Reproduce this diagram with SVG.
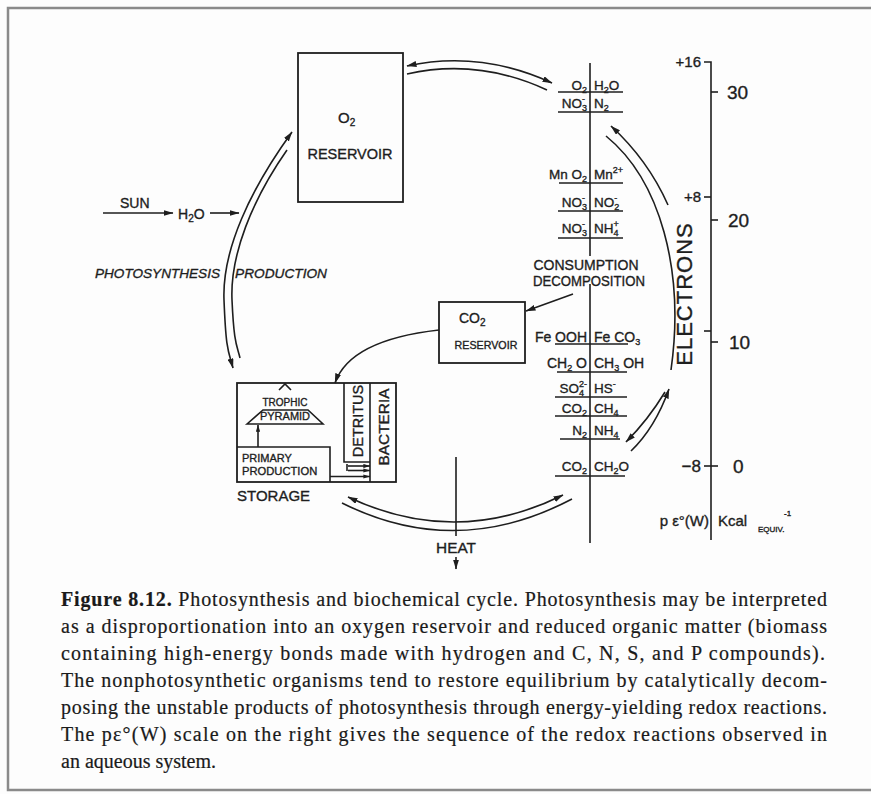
<svg xmlns="http://www.w3.org/2000/svg" width="871" height="794" viewBox="0 0 871 794">
<defs>
<marker id="ah" viewBox="0 0 10 6" refX="9.5" refY="3" markerWidth="10" markerHeight="6" orient="auto-start-reverse" markerUnits="userSpaceOnUse"><path d="M0,0 L10,3 L0,6 z" fill="#1e1e1e"/></marker>
<marker id="as" viewBox="0 0 10 6" refX="9.5" refY="3" markerWidth="7" markerHeight="4.2" orient="auto-start-reverse" markerUnits="userSpaceOnUse"><path d="M0,0 L10,3 L0,6 z" fill="#1e1e1e"/></marker>
<style>
.ln{fill:none;stroke:#1e1e1e;stroke-width:1.6}
.bx{fill:none;stroke:#1e1e1e;stroke-width:1.8}
.t{font-family:"Liberation Sans","DejaVu Sans",sans-serif;fill:#1e1e1e;stroke:#1e1e1e;stroke-width:0.35}
.sp{font-size:13.5px}
.sb{font-size:9px}
.cap{font-family:"Liberation Serif","Times New Roman",serif;font-size:20px;fill:#1a1a1a;stroke:#1a1a1a;stroke-width:0.2}
</style>
</defs>
<rect x="0" y="0" width="871" height="794" fill="#fdfdfd"/>
<rect x="8" y="8" width="880" height="782" fill="none" stroke="#8a8a8a" stroke-width="2.5"/>

<g id="o2-reservoir">
<rect class="bx" x="298" y="53" width="105" height="149"/>
<text class="t" x="338" y="123" font-size="15">O<tspan font-size="10" dy="3">2</tspan></text>
<text class="t" x="350" y="159" font-size="14.5" text-anchor="middle">RESERVOIR</text>
</g>

<g id="co2-reservoir">
<rect class="bx" x="439" y="302" width="86" height="61"/>
<text class="t" x="459" y="323" font-size="14">CO<tspan font-size="10" dy="3">2</tspan></text>
<text class="t" x="486" y="349" font-size="10.7" text-anchor="middle">RESERVOIR</text>
</g>

<g id="storage">
<rect class="bx" x="237" y="383" width="159" height="99"/>
<polyline class="ln" points="344,383 344,462 370,462"/>
<line class="ln" x1="370" y1="383" x2="370" y2="482"/>
<polyline class="ln" points="237,447 330,447 330,482"/>
<text class="t" x="358" y="421" font-size="14.5" text-anchor="middle" dominant-baseline="central" transform="rotate(-90 358 421)">DETRITUS</text>
<text class="t" x="383" y="427" font-size="15.4" text-anchor="middle" dominant-baseline="central" transform="rotate(-90 383 427)">BACTERIA</text>
<polyline class="ln" points="279,390 285,384 291,390" stroke-width="1.2"/>
<polygon class="ln" points="247,424 263,410 308,410 323,424"/>
<text class="t" x="285" y="406" font-size="10" text-anchor="middle">TROPHIC</text>
<text class="t" x="285" y="420" font-size="11" text-anchor="middle">PYRAMID</text>
<line class="ln" x1="258" y1="447" x2="258" y2="425" marker-end="url(#as)"/>
<text class="t" x="242" y="462" font-size="11">PRIMARY</text>
<text class="t" x="242" y="475" font-size="11.2">PRODUCTION</text>
<line class="ln" x1="347" y1="464" x2="347" y2="471" stroke-width="1.2"/>
<line class="ln" x1="348" y1="466" x2="370" y2="466" stroke-width="1.2" marker-end="url(#as)"/>
<line class="ln" x1="348" y1="470.5" x2="370" y2="470.5" stroke-width="1.2" marker-end="url(#as)"/>
<line class="ln" x1="330" y1="476.5" x2="370" y2="476.5" stroke-width="1.2" marker-end="url(#as)"/>
<text class="t" x="237" y="501" font-size="15">STORAGE</text>
</g>

<g id="labels">
<text class="t" x="120" y="208" font-size="14">SUN</text>
<text class="t" x="178" y="219" font-size="14">H<tspan font-size="10" dy="3">2</tspan><tspan dy="-3">O</tspan></text>
<text class="t" x="95" y="278" font-size="13.5" font-style="italic" textLength="125" lengthAdjust="spacingAndGlyphs">PHOTOSYNTHESIS</text>
<text class="t" x="235" y="278" font-size="13.5" font-style="italic" textLength="92" lengthAdjust="spacingAndGlyphs">PRODUCTION</text>
<text class="t" x="586" y="270" font-size="14" text-anchor="middle" textLength="105" lengthAdjust="spacingAndGlyphs">CONSUMPTION</text>
<text class="t" x="589" y="286" font-size="14" text-anchor="middle" textLength="112" lengthAdjust="spacingAndGlyphs">DECOMPOSITION</text>
<text class="t" x="456" y="553" font-size="15.4" text-anchor="middle">HEAT</text>
<text class="t" x="684" y="294" font-size="22" text-anchor="middle" dominant-baseline="central" letter-spacing="1" transform="rotate(-90 684 294)">ELECTRONS</text>
</g>

<g id="redox-ladder">
<line class="ln" x1="590" y1="63" x2="590" y2="256"/>
<line class="ln" x1="590" y1="284" x2="590" y2="543"/>
<g class="ln" stroke-width="1.5">
<line x1="558" y1="92" x2="623" y2="92"/>
<line x1="558" y1="112" x2="623" y2="112"/>
<line x1="559" y1="183" x2="623" y2="183"/>
<line x1="558" y1="211" x2="623" y2="211"/>
<line x1="558" y1="238" x2="623" y2="238"/>
<line x1="555" y1="344" x2="628" y2="344"/>
<line x1="557" y1="372" x2="627" y2="372"/>
<line x1="555" y1="397" x2="627" y2="397"/>
<line x1="555" y1="416" x2="627" y2="416"/>
<line x1="560" y1="439" x2="620" y2="439"/>
<line x1="555" y1="476" x2="625" y2="476"/>
</g>
<g class="t sp">
<text x="587" y="90" text-anchor="end">O<tspan class="sb" dy="3">2</tspan></text>
<text x="594" y="90">H<tspan class="sb" dy="3">2</tspan><tspan dy="-3">O</tspan></text>
<text x="587" y="108" text-anchor="end">NO<tspan class="sb" dy="3">3</tspan><tspan class="sb" dx="-5" dy="-9">-</tspan></text>
<text x="594" y="108">N<tspan class="sb" dy="3">2</tspan></text>
<text x="587" y="179" text-anchor="end">Mn O<tspan class="sb" dy="3">2</tspan></text>
<text x="594" y="179">Mn<tspan class="sb" dy="-6">2+</tspan></text>
<text x="587" y="207" text-anchor="end">NO<tspan class="sb" dy="3">3</tspan><tspan class="sb" dx="-5" dy="-9">-</tspan></text>
<text x="594" y="207">NO<tspan class="sb" dy="3">2</tspan><tspan class="sb" dx="-5" dy="-9">-</tspan></text>
<text x="587" y="233" text-anchor="end">NO<tspan class="sb" dy="3">3</tspan><tspan class="sb" dx="-5" dy="-9">-</tspan></text>
<text x="594" y="233">NH<tspan class="sb" dy="3">4</tspan><tspan class="sb" dx="-5" dy="-9">+</tspan></text>
<text x="587" y="342" text-anchor="end" font-size="14">Fe OOH</text>
<text x="594" y="342" font-size="14">Fe CO<tspan class="sb" dy="3">3</tspan></text>
<text x="587" y="368" text-anchor="end" font-size="14">CH<tspan class="sb" dy="3">2</tspan><tspan dy="-3"> O</tspan></text>
<text x="594" y="368" font-size="14">CH<tspan class="sb" dy="3">3</tspan><tspan dy="-3"> OH</tspan></text>
<text x="587" y="393" text-anchor="end">SO<tspan class="sb" dy="3">4</tspan><tspan class="sb" dx="-5" dy="-9">2-</tspan></text>
<text x="594" y="393">HS<tspan class="sb" dy="-6">-</tspan></text>
<text x="587" y="413" text-anchor="end">CO<tspan class="sb" dy="3">2</tspan></text>
<text x="594" y="413">CH<tspan class="sb" dy="3">4</tspan></text>
<text x="587" y="435" text-anchor="end">N<tspan class="sb" dy="3">2</tspan></text>
<text x="594" y="435">NH<tspan class="sb" dy="3">4</tspan></text>
<text x="587" y="471" text-anchor="end">CO<tspan class="sb" dy="3">2</tspan></text>
<text x="594" y="471">CH<tspan class="sb" dy="3">2</tspan><tspan dy="-3">O</tspan></text>
</g>
</g>

<g id="scale">
<polyline class="ln" points="704,62 711,62 711,540"/>
<g class="ln">
<line x1="704" y1="197" x2="711" y2="197"/>
<line x1="704" y1="331" x2="711" y2="331"/>
<line x1="704" y1="466" x2="718" y2="466"/>
<line x1="711" y1="92" x2="718" y2="92"/>
<line x1="711" y1="220" x2="718" y2="220"/>
<line x1="711" y1="342" x2="718" y2="342"/>
</g>
<g class="t">
<text x="701" y="67" font-size="15" text-anchor="end">+16</text>
<text x="701" y="202" font-size="15" text-anchor="end">+8</text>
<text x="701" y="472" font-size="17" text-anchor="end">−8</text>
<text x="727" y="99" font-size="19">30</text>
<text x="728" y="227" font-size="19">20</text>
<text x="729" y="349" font-size="19">10</text>
<text x="733" y="473" font-size="19">0</text>
<text x="709" y="526" font-size="15" text-anchor="end">p ε°(W)</text>
<text x="718" y="526" font-size="15">Kcal</text>
<text x="758" y="532" font-size="8">EQUIV.</text>
<text x="784" y="516" font-size="8">-1</text>
</g>
</g>

<g id="connectors">
<path class="ln" d="M 407,66 Q 480,50 552,83" marker-start="url(#ah)" marker-end="url(#ah)"/>
<path class="ln" d="M 407,74 Q 478,58 547,90"/>
<path class="ln" d="M 292,132 C 250,190 222,250 224,300 S 228,350 233,368" marker-start="url(#ah)" marker-end="url(#ah)"/>
<path class="ln" d="M 287,150 C 252,200 230,255 232,300 S 237,345 240,358"/>
<line class="ln" x1="103" y1="213" x2="173" y2="213" marker-end="url(#ah)"/>
<line class="ln" x1="210" y1="213" x2="239" y2="213" marker-end="url(#ah)"/>
<path class="ln" d="M 606,136 C 660,180 685,270 671,370" />
<path class="ln" d="M 668,205 Q 648,160 611,126" marker-end="url(#ah)"/>
<path class="ln" d="M 665,392 Q 648,420 626,442" marker-end="url(#ah)"/>
<path class="ln" d="M 631,451 Q 655,428 669,389" marker-end="url(#ah)"/>
<path class="ln" d="M 348,497 Q 456,548 563,495" marker-start="url(#ah)" marker-end="url(#ah)"/>
<path class="ln" d="M 342,503 Q 456,560 572,499"/>
<path class="ln" d="M 439,330 Q 350,340 335,383" marker-end="url(#ah)"/>
<line class="ln" x1="573" y1="294" x2="526" y2="311" marker-end="url(#ah)"/>
<line class="ln" x1="456" y1="457" x2="456" y2="536"/>
<line class="ln" x1="456" y1="557" x2="456" y2="569" marker-end="url(#ah)"/>
</g>

<g id="caption">
<text class="cap" x="61" y="606" textLength="766" lengthAdjust="spacing"><tspan font-weight="bold">Figure 8.12.</tspan> Photosynthesis and biochemical cycle. Photosynthesis may be interpreted</text>
<text class="cap" x="61" y="633" textLength="766" lengthAdjust="spacing">as a disproportionation into an oxygen reservoir and reduced organic matter (biomass</text>
<text class="cap" x="61" y="660" textLength="764" lengthAdjust="spacing">containing high-energy bonds made with hydrogen and C, N, S, and P compounds).</text>
<text class="cap" x="61" y="687" textLength="766" lengthAdjust="spacing">The nonphotosynthetic organisms tend to restore equilibrium by catalytically decom-</text>
<text class="cap" x="61" y="714" textLength="766" lengthAdjust="spacing">posing the unstable products of photosynthesis through energy-yielding redox reactions.</text>
<text class="cap" x="61" y="741" textLength="766" lengthAdjust="spacing">The pε°(W) scale on the right gives the sequence of the redox reactions observed in</text>
<text class="cap" x="61" y="768">an aqueous system.</text>
</g>
</svg>
